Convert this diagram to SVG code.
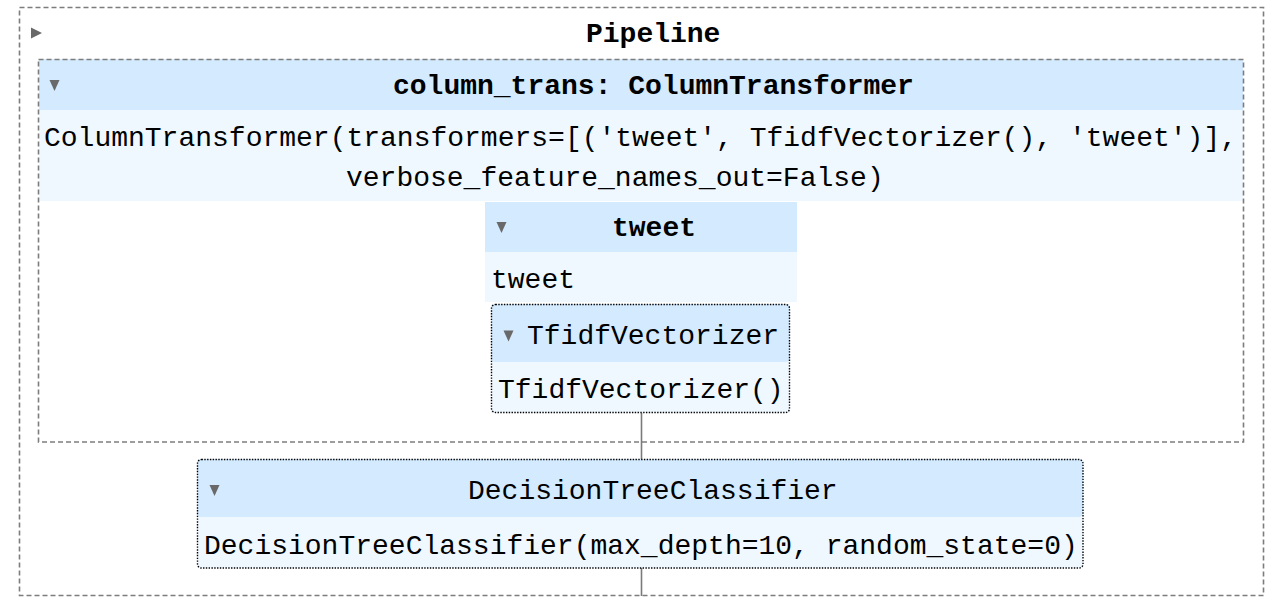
<svg xmlns="http://www.w3.org/2000/svg" width="1280" height="612" viewBox="0 0 1280 612">
<style>
text{font-family:"Liberation Mono","Courier New",monospace;font-size:28px;fill:#000}
.b{font-weight:bold}
.dash{fill:none;stroke:#7d7d7d;stroke-width:1.6;stroke-dasharray:5 3}
.dot{fill:none;stroke:#000;stroke-width:1.4;stroke-dasharray:1.4 1.4}
.hd{fill:#d4ebff}
.bd{fill:#f0f8ff}
.tri{fill:#696969}
.conn{stroke:#7a7a7a;stroke-width:1.6;fill:none}
</style>
<rect width="1280" height="612" fill="#fff"/>
<g id="connectors">
<line class="conn" x1="641.5" y1="413" x2="641.5" y2="459"/>
<line class="conn" x1="641.5" y1="568" x2="641.5" y2="596"/>
</g>
<g id="pipeline">
<rect class="dash" x="19.5" y="7.5" width="1244" height="588"/>
<polygon class="tri" points="31,27.5 42,33 31,38.5"/>
<text class="b" x="586" y="41.5">Pipeline</text>
</g>
<g id="column_trans">
<rect class="hd" x="39" y="59" width="1204" height="51"/>
<rect class="bd" x="39" y="110" width="1204" height="91"/>
<rect class="dash" x="38.5" y="59.5" width="1205" height="382.5"/>
<polygon class="tri" points="49.5,80 59.5,80 54.5,91"/>
<text class="b" x="393" y="93.5">column_trans: ColumnTransformer</text>
<text x="44" y="145.5">ColumnTransformer(transformers=[('tweet', TfidfVectorizer(), 'tweet')],</text>
<text x="346" y="185.5">verbose_feature_names_out=False)</text>
</g>
<g id="tweet">
<rect class="hd" x="485" y="202" width="312" height="50"/>
<rect class="bd" x="485" y="252" width="312" height="50"/>
<polygon class="tri" points="496.5,222 506.5,222 501.5,233"/>
<text class="b" x="612" y="236">tweet</text>
<text x="491" y="288">tweet</text>
</g>
<g id="tfidf">
<rect class="hd" x="491" y="304" width="299" height="58" rx="4"/>
<rect class="bd" x="491" y="362" width="299" height="51"/>
<rect class="dot" x="491.5" y="304.5" width="298" height="108" rx="4"/>
<polygon class="tri" points="503.5,330.5 513.5,330.5 508.5,341.5"/>
<text x="527" y="344">TfidfVectorizer</text>
<text x="498" y="398">TfidfVectorizer()</text>
</g>
<g id="dtc">
<rect class="hd" x="197" y="459" width="886" height="58" rx="4"/>
<rect class="bd" x="197" y="517" width="886" height="51"/>
<rect class="dot" x="197.5" y="459.5" width="885.5" height="108.5" rx="4"/>
<polygon class="tri" points="209.5,485 219.5,485 214.5,496"/>
<text x="468" y="499">DecisionTreeClassifier</text>
<text x="204" y="554">DecisionTreeClassifier(max_depth=10, random_state=0)</text>
</g>
</svg>
